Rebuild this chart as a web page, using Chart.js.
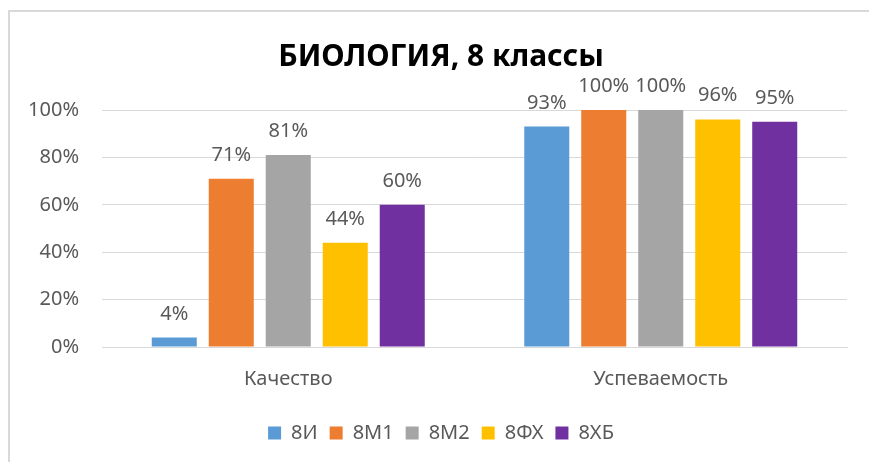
<!DOCTYPE html>
<html>
<head>
<meta charset="utf-8">
<script src="https://cdn.jsdelivr.net/npm/chart.js@4"></script>
<style>
html,body{margin:0;padding:0;background:#fff;overflow:hidden;}
#wrap{position:relative;width:869px;height:462px;}
#frame{position:absolute;left:8px;top:10px;width:900px;height:500px;border:2px solid #D9D9D9;box-sizing:border-box;}
canvas{position:absolute;left:0;top:0;}
</style>
</head>
<body>
<div id="wrap">
<div id="frame"></div>
<canvas id="c" width="869" height="462"></canvas>
</div>
<script>
const categories = ["Качество", "Успеваемость"];
const seriesNames = ["8И", "8М1", "8М2", "8ФХ", "8ХБ"];
const s8I  = [4, 93];
const s8M1 = [71, 100];
const s8M2 = [81, 100];
const s8FX = [44, 96];
const s8XB = [60, 95];
const yTicks = [0, 20, 40, 60, 80, 100];
const colors = ["#5B9BD5", "#ED7D31", "#A5A5A5", "#FFC000", "#7030A0"];
const titleText = "БИОЛОГИЯ, 8 классы";

const FONT = "'Noto Sans', sans-serif";
const allSeries = [s8I, s8M1, s8M2, s8FX, s8XB];

const labelPlugin = {
  id: 'valueLabels',
  afterDatasetsDraw(chart) {
    const ctx = chart.ctx;
    ctx.save();
    ctx.font = "20px " + FONT;
    ctx.fillStyle = "#595959";
    ctx.textAlign = "center";
    ctx.textBaseline = "alphabetic";
    chart.data.datasets.forEach((ds, i) => {
      const meta = chart.getDatasetMeta(i);
      meta.data.forEach((bar, j) => {
        ctx.fillText(ds.data[j] + "%", bar.x, bar.y - 18);
      });
    });
    ctx.restore();
  }
};

new Chart(document.getElementById('c'), {
  type: 'bar',
  data: {
    labels: categories,
    datasets: seriesNames.map((n, i) => ({
      label: n,
      data: allSeries[i],
      backgroundColor: colors[i],
      borderWidth: 0,
      categoryPercentage: 0.765,
      barPercentage: 0.79
    }))
  },
  options: {
    responsive: false,
    animation: false,
    devicePixelRatio: 1,
    layout: { padding: { left: 13, right: 0, top: 39, bottom: 9 } },
    plugins: {
      title: {
        display: true,
        text: titleText,
        color: "#000000",
        font: { family: FONT, size: 30, weight: 'bold' },
        padding: { top: 0, bottom: 35 }
      },
      legend: {
        position: 'bottom',
        labels: {
          color: "#595959",
          font: { family: FONT, size: 20 },
          boxWidth: 13,
          boxHeight: 13,
          padding: 12
        }
      },
      tooltip: { enabled: false }
    },
    scales: {
      x: {
        grid: { display: false, drawTicks: false },
        border: { display: true, color: "#D9D9D9", width: 1 },
        ticks: { color: "#595959", font: { family: FONT, size: 20 }, padding: 20 }
      },
      y: {
        min: 0, max: 100,
        afterFit(scale) { scale.width = 89; },
        afterBuildTicks(scale) { scale.ticks = yTicks.map(v => ({ value: v })); },
        grid: { color: "#D9D9D9", lineWidth: 1, drawTicks: false },
        border: { display: false },
        ticks: {
          color: "#595959",
          font: { family: FONT, size: 20 },
          padding: 23,
          callback: v => v + "%"
        }
      },
      y2: {
        type: 'linear',
        position: 'right',
        min: 0, max: 100,
        afterFit(scale) { scale.width = 22; },
        grid: { display: false, drawTicks: false },
        border: { display: false },
        ticks: { display: false }
      }
    }
  },
  plugins: [labelPlugin]
});
</script>
</body>
</html>
